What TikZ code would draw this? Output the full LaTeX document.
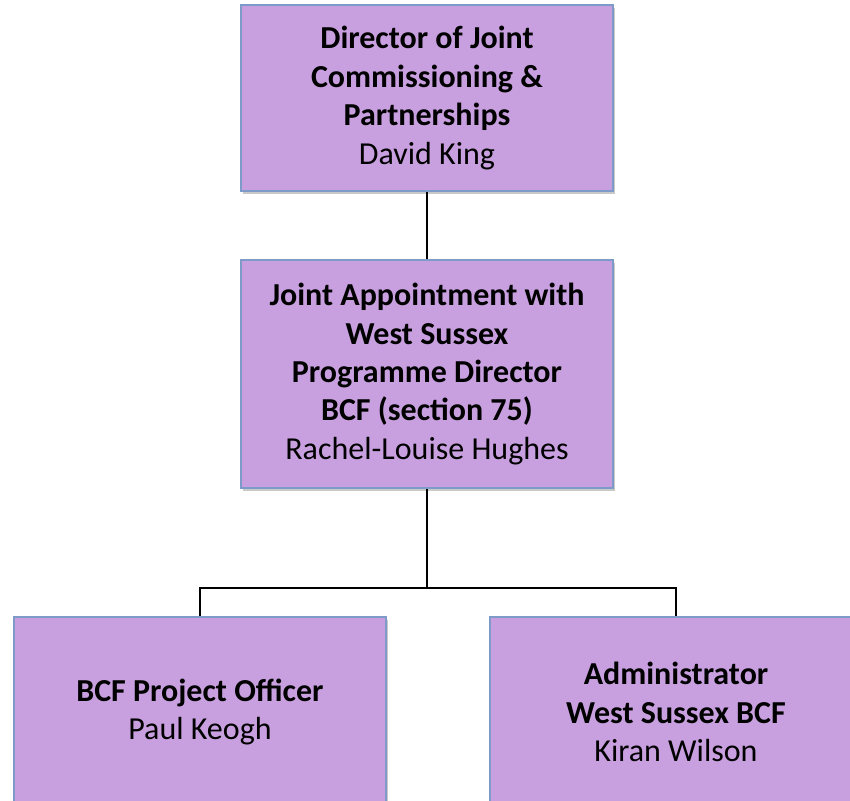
\documentclass[tikz,border=0pt]{standalone}
\usepackage{fontspec}
\setmainfont{Carlito}
\usepackage{tikz}
\usetikzlibrary{shadows}
\definecolor{boxfill}{HTML}{C9A0DF}
\definecolor{boxline}{HTML}{7D9AC8}
\tikzset{
    post/.style={
    rectangle,draw=boxline,fill=boxfill,line width=0.6pt,
    minimum width=186pt,inner sep=0pt,align=center,
    font=\fontsize{16}{19.2}\selectfont,
    drop shadow={shadow xshift=1.2pt,shadow yshift=-1.5pt,opacity=0.35,fill=black!60}
    },
    link/.style={
    draw=black,line width=0.7pt
    },
}
\begin{document}
\begin{tikzpicture}[x=0.5pt,y=-0.5pt]
  \clip (0,0) rectangle (850,800);
  \fill[white] (0,0) rectangle (850,800);
  \node[post,minimum height=93pt] (DIR) at (427,98)
    {\textbf{Director of Joint}\\\textbf{Commissioning \&}\\\textbf{Partnerships}\\David King};
  \node[post,minimum height=114pt] (PD) at (427,374)
    {\textbf{Joint Appointment with}\\\textbf{West Sussex}\\\textbf{Programme Director}\\\textbf{BCF (section 75)}\\Rachel-Louise Hughes};
  \node[post,minimum height=95pt] (PO) at (200,712)
    {\textbf{BCF Project Officer}\\Paul Keogh};
  \node[post,minimum height=95pt] (ADM) at (676,712)
    {\textbf{Administrator}\\\textbf{West Sussex BCF}\\Kiran Wilson};
  \coordinate (bar) at (427,588);

  \path[link]
    (DIR.south) -- (PD.north)
    (PD.south) -- (bar)
    (PO.north) |- (bar) -| (ADM.north);
\end{tikzpicture}
\end{document}
